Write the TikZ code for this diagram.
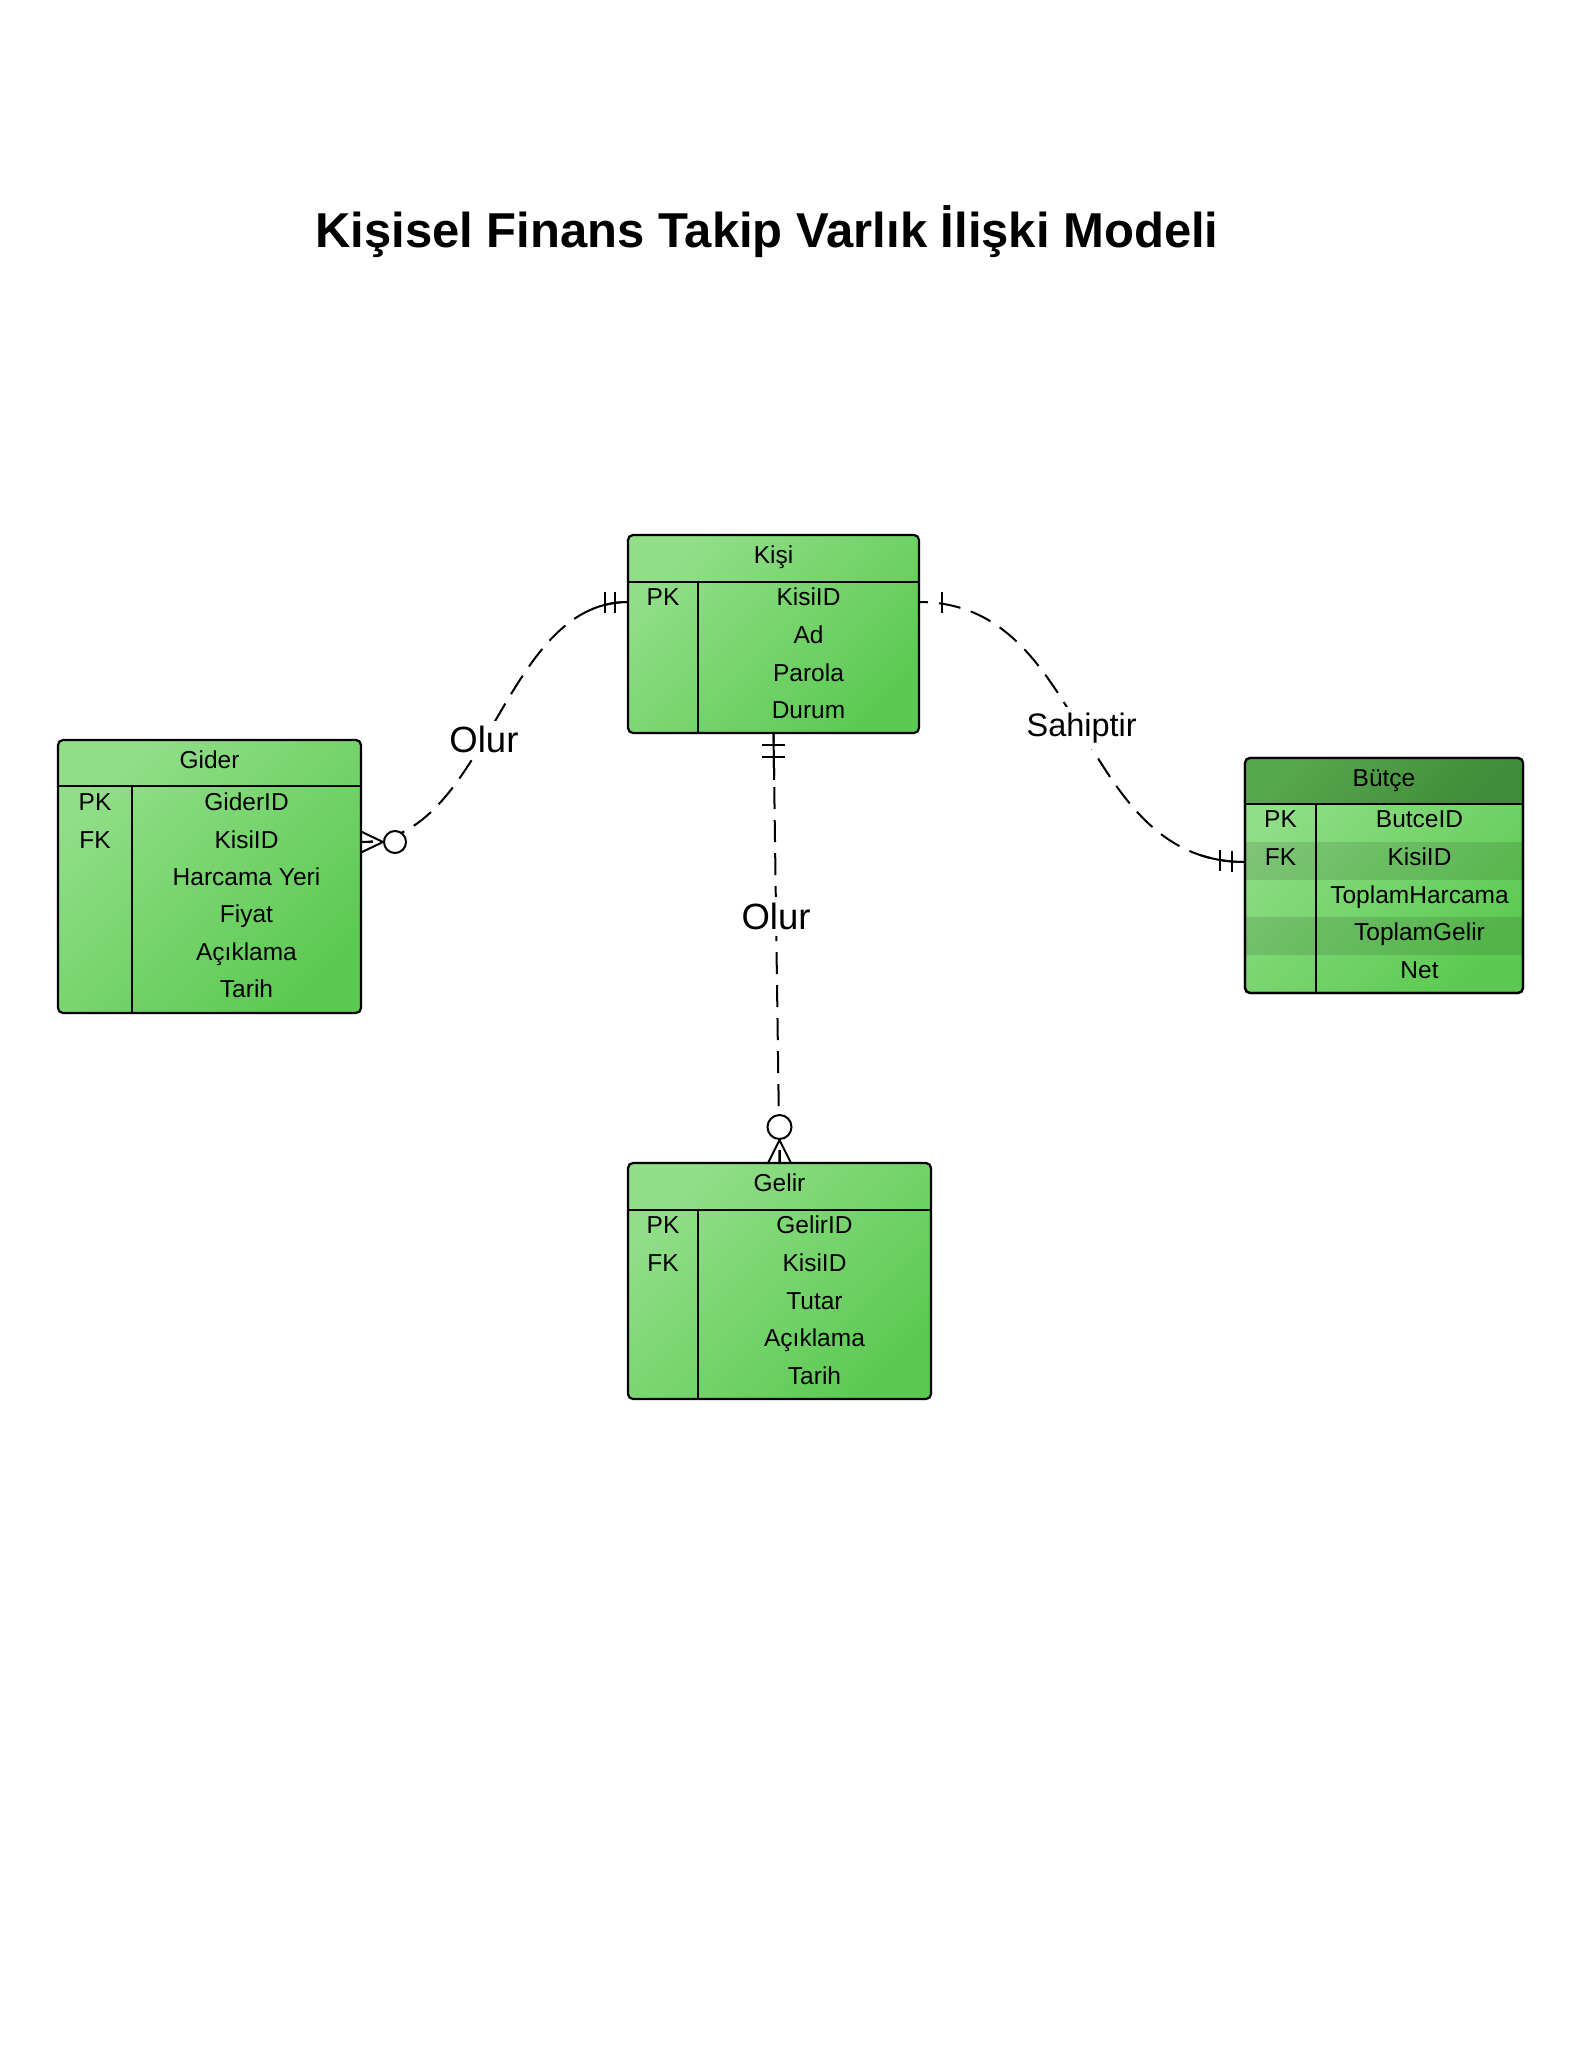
\documentclass[tikz,border=0pt]{standalone}
\usepackage{fontspec}
\setmainfont{Liberation Sans}
\usetikzlibrary{calc}
\definecolor{gLight}{RGB}{146,222,137}
\definecolor{gDark}{RGB}{92,202,82}
\definecolor{hLight}{RGB}{88,168,78}
\definecolor{hDark}{RGB}{64,140,57}
\begin{document}
\begin{tikzpicture}[x=1pt,y=-1pt,
  box/.style={draw=black, line width=2.2pt, rounded corners=5pt, top color=gLight, bottom color=gDark, shading angle=45, inner sep=0pt, outer sep=0pt, anchor=north west},
  sepline/.style={draw=black, line width=2.2pt},
  txt/.style={anchor=base, font=\fontsize{24.5}{28}\selectfont, inner sep=0pt, text=black},
  conn/.style={line width=2pt, draw=black},
  mk/.style={line width=2pt, draw=black, line cap=butt},
  lbl/.style={fill=white, inner sep=6pt, font=\fontsize{36.5}{40}\selectfont, text=black},
]
\useasboundingbox (0,0) rectangle (1582,2048);
\fill[white] (0,0) rectangle (1582,2048);

% Title
\node[anchor=base, inner sep=0pt, font=\bfseries\fontsize{49}{53}\selectfont] (title) at (767,247) {Kişisel Finans Takip Varlık İlişki Modeli};

% ---------- Kisi ----------
\node[box, minimum width=291pt, minimum height=198pt] (kisi) at (628,535) {};
\draw[sepline] ($(kisi.north west)+(0,47)$) -- ($(kisi.north east)+(0,47)$);
\draw[sepline] ($(kisi.north west)+(70,47)$) -- ($(kisi.south west)+(70,0)$);
\node[txt] (kisiH) at (773.5,563.6) {Kişi};
\node[txt] (kisiK1) at (663,605.5) {PK};
\node[txt] (kisiA1) at (808.5,605.5) {KisiID};
\node[txt] (kisiA2) at (808.5,643.3) {Ad};
\node[txt] (kisiA3) at (808.5,681) {Parola};
\node[txt] (kisiA4) at (808.5,718.3) {Durum};

% ---------- Gider ----------
\node[box, minimum width=303pt, minimum height=273pt] (gider) at (58,740) {};
\draw[sepline] ($(gider.north west)+(0,46)$) -- ($(gider.north east)+(0,46)$);
\draw[sepline] ($(gider.north west)+(74,46)$) -- ($(gider.south west)+(74,0)$);
\node[txt] (giderH) at (209.5,768.6) {Gider};
\node[txt] (giderK1) at (95,810.5) {PK};
\node[txt] (giderK2) at (95,848) {FK};
\node[txt] (giderA1) at (246.5,810.5) {GiderID};
\node[txt] (giderA2) at (246.5,848) {KisiID};
\node[txt] (giderA3) at (246.5,885.5) {Harcama Yeri};
\node[txt] (giderA4) at (246.5,922.8) {Fiyat};
\node[txt] (giderA5) at (246.5,960) {Açıklama};
\node[txt] (giderA6) at (246.5,997.3) {Tarih};

% ---------- Butce ----------
\node[box, minimum width=278pt, minimum height=235pt] (butce) at (1245,758) {};
\begin{scope}
\clip[rounded corners=5pt] (butce.north west) rectangle (butce.south east);
\shade[top color=hLight, bottom color=hDark, shading angle=45] (butce.north west) rectangle ($(butce.north east)+(0,46)$);
\fill[black, fill opacity=0.11] ($(butce.north west)+(0,83.8)$) rectangle ($(butce.north east)+(0,121.6)$);
\fill[black, fill opacity=0.11] ($(butce.north west)+(0,159.4)$) rectangle ($(butce.north east)+(0,197.2)$);
\end{scope}
\draw[line width=2.2pt, rounded corners=5pt] (butce.north west) rectangle (butce.south east);
\draw[sepline] ($(butce.north west)+(0,46)$) -- ($(butce.north east)+(0,46)$);
\draw[sepline] ($(butce.north west)+(71,46)$) -- ($(butce.south west)+(71,0)$);
\node[txt] (butceH) at (1384,786.6) {Bütçe};
\node[txt] (butceK1) at (1280.5,827.5) {PK};
\node[txt] (butceK2) at (1280.5,865.3) {FK};
\node[txt] (butceA1) at (1419.5,827.5) {ButceID};
\node[txt] (butceA2) at (1419.5,865.3) {KisiID};
\node[txt] (butceA3) at (1419.5,903.1) {ToplamHarcama};
\node[txt] (butceA4) at (1419.5,940.9) {ToplamGelir};
\node[txt] (butceA5) at (1419.5,978.7) {Net};

% ---------- Gelir ----------
\node[box, minimum width=303pt, minimum height=236pt] (gelir) at (628,1163) {};
\draw[sepline] ($(gelir.north west)+(0,47)$) -- ($(gelir.north east)+(0,47)$);
\draw[sepline] ($(gelir.north west)+(70,47)$) -- ($(gelir.south west)+(70,0)$);
\node[txt] (gelirH) at (779.5,1191.6) {Gelir};
\node[txt] (gelirK1) at (663,1233.5) {PK};
\node[txt] (gelirK2) at (663,1271.3) {FK};
\node[txt] (gelirA1) at (814.5,1233.5) {GelirID};
\node[txt] (gelirA2) at (814.5,1271.3) {KisiID};
\node[txt] (gelirA3) at (814.5,1309.1) {Tutar};
\node[txt] (gelirA4) at (814.5,1346.9) {Açıklama};
\node[txt] (gelirA5) at (814.5,1384.7) {Tarih};

% ---------- connection points ----------
\coordinate (kisiL) at ($(kisi.north west)+(0,67)$);
\coordinate (kisiR) at ($(kisi.north east)+(0,67)$);
\coordinate (kisiB) at (kisi.south);
\coordinate (giderR) at ($(gider.north east)+(0,102)$);
\coordinate (butceL) at ($(butce.north west)+(0,104)$);
\coordinate (gelirT) at (gelir.north);

% ---------- Gider -- Kisi ----------
\draw[conn, dash pattern=on 22pt off 11pt, dash phase=10pt] (giderR) .. controls ($(giderR)+(127,0)$) and ($(kisiL)+(-127,0)$) .. (kisiL) node[lbl, pos=0.45] (olur1) {Olur};
\begin{scope}
\clip ($(kisiL)+(-36,-25)$) rectangle ($(kisiL)+(0,25)$);
\draw[conn] (giderR) .. controls ($(giderR)+(127,0)$) and ($(kisiL)+(-127,0)$) .. (kisiL);
\end{scope}
\draw[mk] ($(kisiL)+(-13,-10.5)$) -- ++(0,21);
\draw[mk] ($(kisiL)+(-23,-10)$) -- ++(0,21);
\draw[mk] (giderR) -- ++(12,0);
\draw[mk] ($(giderR)+(0,-10.5)$) -- ($(giderR)+(22,0)$) -- ($(giderR)+(0,10.5)$);
\draw[mk, fill=white] ($(giderR)+(34,0)$) circle[radius=11pt];

% ---------- Kisi -- Butce ----------
\draw[conn, dash pattern=on 22pt off 11pt, dash phase=13pt] (kisiR) .. controls ($(kisiR)+(170,0)$) and ($(butceL)+(-170,0)$) .. (butceL) node[lbl, pos=0.49, xshift=2pt, font=\fontsize{32.5}{36}\selectfont] (sahip) {Sahiptir};
\begin{scope}
\clip ($(butceL)+(-45,-25)$) rectangle ($(butceL)+(0,25)$);
\draw[conn] (kisiR) .. controls ($(kisiR)+(170,0)$) and ($(butceL)+(-170,0)$) .. (butceL);
\end{scope}
\draw[mk] ($(kisiR)+(23,-10.5)$) -- ++(0,21);
\draw[mk] ($(butceL)+(-25,-12)$) -- ++(0,21);
\draw[mk] ($(butceL)+(-13,-11)$) -- ++(0,21);

% ---------- Kisi -- Gelir ----------
\draw[conn, dash pattern=on 22pt off 11pt, dash phase=9pt] (gelirT) -- (kisiB) node[lbl, pos=0.574] (olur2) {Olur};
\draw[conn] (kisiB) -- ($(kisiB)!47pt!(gelirT)$);
\draw[mk] ($(kisiB)+(-11.5,12)$) -- ++(23,0);
\draw[mk] ($(kisiB)+(-11.5,24)$) -- ++(23,0);
\draw[mk] ($(gelirT)+(-11.5,0)$) -- ($(gelirT)+(0,-23)$) -- ($(gelirT)+(11.5,0)$);
\draw[mk] (gelirT) -- ++(0,-13);
\draw[mk, fill=white] ($(gelirT)+(0,-36)$) circle[radius=12pt];
\end{tikzpicture}
\end{document}
